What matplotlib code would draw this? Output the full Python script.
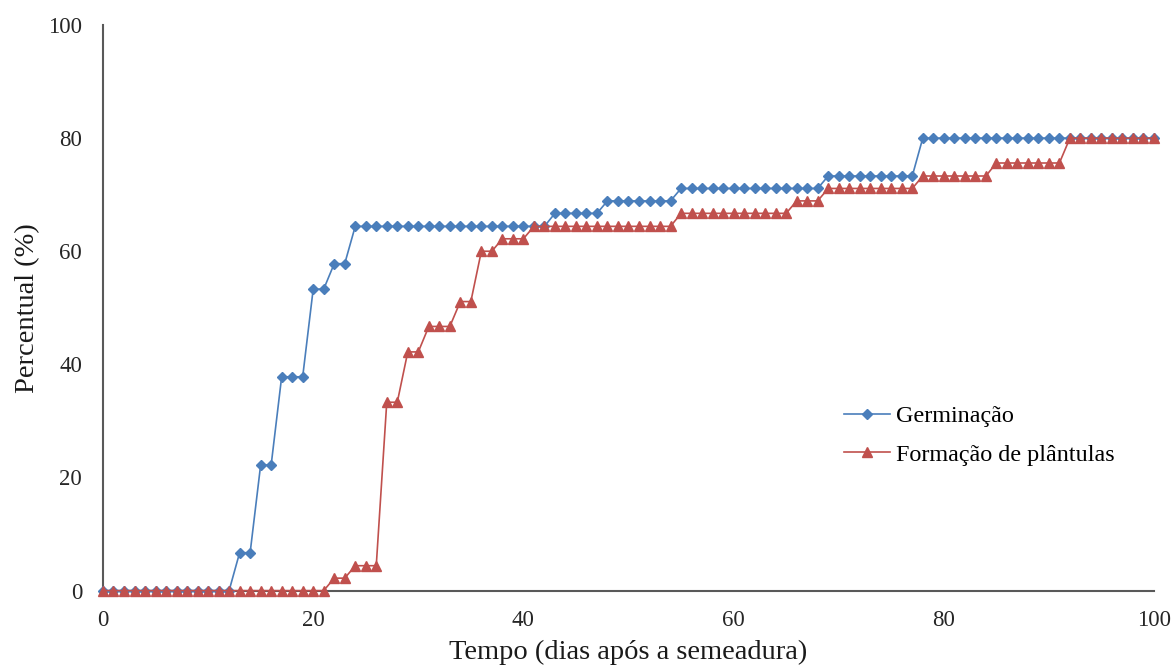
import matplotlib
matplotlib.use('Agg')
import matplotlib.pyplot as plt

plt.rcParams['font.family'] = ['Liberation Serif', 'DejaVu Serif']

# dias apos a semeadura
dias = list(range(0, 101))

# percentual de germinacao (%)
germinacao = [
    0, 0, 0, 0, 0, 0, 0, 0, 0, 0,
    0, 0, 0, 6.7, 6.7, 22.2, 22.2, 37.8, 37.8, 37.8,
    53.3, 53.3, 57.8, 57.8, 64.4, 64.4, 64.4, 64.4, 64.4, 64.4,
    64.4, 64.4, 64.4, 64.4, 64.4, 64.4, 64.4, 64.4, 64.4, 64.4,
    64.4, 64.4, 64.4, 66.7, 66.7, 66.7, 66.7, 66.7, 68.9, 68.9,
    68.9, 68.9, 68.9, 68.9, 68.9, 71.1, 71.1, 71.1, 71.1, 71.1,
    71.1, 71.1, 71.1, 71.1, 71.1, 71.1, 71.1, 71.1, 71.1, 73.3,
    73.3, 73.3, 73.3, 73.3, 73.3, 73.3, 73.3, 73.3, 80.0, 80.0,
    80.0, 80.0, 80.0, 80.0, 80.0, 80.0, 80.0, 80.0, 80.0, 80.0,
    80.0, 80.0, 80.0, 80.0, 80.0, 80.0, 80.0, 80.0, 80.0, 80.0,
    80.0,
]

# percentual de formacao de plantulas (%)
plantulas = [
    0, 0, 0, 0, 0, 0, 0, 0, 0, 0,
    0, 0, 0, 0, 0, 0, 0, 0, 0, 0,
    0, 0, 2.2, 2.2, 4.4, 4.4, 4.4, 33.3, 33.3, 42.2,
    42.2, 46.7, 46.7, 46.7, 51.1, 51.1, 60.0, 60.0, 62.2, 62.2,
    62.2, 64.4, 64.4, 64.4, 64.4, 64.4, 64.4, 64.4, 64.4, 64.4,
    64.4, 64.4, 64.4, 64.4, 64.4, 66.7, 66.7, 66.7, 66.7, 66.7,
    66.7, 66.7, 66.7, 66.7, 66.7, 66.7, 68.9, 68.9, 68.9, 71.1,
    71.1, 71.1, 71.1, 71.1, 71.1, 71.1, 71.1, 71.1, 73.3, 73.3,
    73.3, 73.3, 73.3, 73.3, 73.3, 75.6, 75.6, 75.6, 75.6, 75.6,
    75.6, 75.6, 80.0, 80.0, 80.0, 80.0, 80.0, 80.0, 80.0, 80.0,
    80.0,
]

fig = plt.figure(figsize=(11.73, 6.70), dpi=100)
ax = fig.add_axes([0.0878, 0.1185, 0.8960, 0.8442])

ax.plot(dias, germinacao, color='#4A7EBB', lw=1.2, marker='D', markersize=5,
        label='Germinação', clip_on=False, zorder=3)
ax.plot(dias, plantulas, color='#C0504D', lw=1.2, marker='^', markersize=6.5,
        label='Formação de plântulas', clip_on=False, zorder=4)

ax.set_xlim(0, 100)
ax.set_ylim(0, 100)
ax.set_xticks([0, 20, 40, 60, 80, 100])
ax.set_yticks([0, 20, 40, 60, 80, 100])
ax.tick_params(axis='both', length=0, labelsize=16.5, colors='#262626')
ax.tick_params(axis='y', pad=15)
ax.tick_params(axis='x', pad=14)

for s in ['top', 'right']:
    ax.spines[s].set_visible(False)
for s in ['left', 'bottom']:
    ax.spines[s].set_color('#595959')
    ax.spines[s].set_linewidth(1.5)

ax.set_xlabel('Tempo (dias após a semeadura)', fontsize=20.5, labelpad=6, color='#1a1a1a')
ax.set_ylabel('Percentual (%)', fontsize=20.5, labelpad=6, color='#1a1a1a')

leg = ax.legend(loc='upper left', bbox_to_anchor=(0.684, 0.366), frameon=False,
                fontsize=17.4, handlelength=1.9, handletextpad=0.25, labelspacing=0.68)

fig.savefig('out.png', dpi=100)
